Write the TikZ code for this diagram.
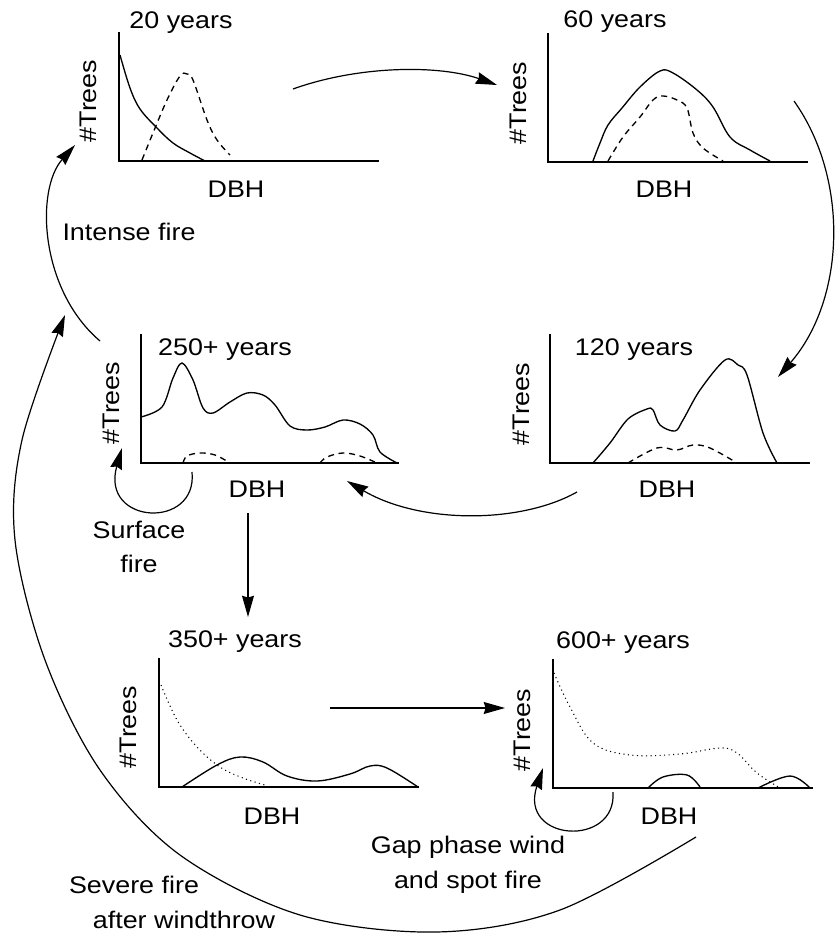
\documentclass[tikz,border=0pt]{standalone}
\usepackage{fontspec}
\setmainfont{Liberation Sans}[FakeStretch=1.12]
\usetikzlibrary{arrows.meta}
\begin{document}
\begin{tikzpicture}[x=0.75pt,y=-0.75pt,
 lbl/.style={inner sep=0pt,font=\fontsize{18}{26}\selectfont},
 ylbl/.style={lbl,rotate=90},
 axis/.style={line width=1.1pt},
 solidc/.style={line width=1pt},
 dashc/.style={line width=1pt,dash pattern=on 4.5pt off 3.5pt},
 dotc/.style={line width=0.8pt,dash pattern=on 0.8pt off 2.6pt},
 conn/.style={line width=0.9pt,-{Stealth[length=16pt,width=9pt,inset=1.5pt]}},
]
\useasboundingbox (0,0) rectangle (837,934);

% ---------- Panel 20 years ----------
\node[lbl] (t1) at (181,23) {20 years};
\node[ylbl] (y1) at (88,101) {\#Trees};
\node[lbl] (d1) at (236,189) {DBH};
\draw[axis] (119,32) -- (119,161) -- (379,161);
\draw[solidc] plot[smooth,tension=0.6] coordinates {(120,55) (130,88) (140,109) (157,128) (173,143) (190,153) (205,161)};
\draw[dashc] plot[smooth,tension=0.6] coordinates {(142,160) (153,133) (167,100) (180,76) (187,74) (193,80) (207,120) (217,140) (230,155)};

% ---------- Panel 60 years ----------
\node[lbl] (t2) at (615,22) {60 years};
\node[ylbl] (y2) at (518,103) {\#Trees};
\node[lbl] (d2) at (664,189) {DBH};
\draw[axis] (548,33) -- (548,162) -- (808,162);
\draw[solidc] plot[smooth,tension=0.6] coordinates {(593,161) (600,143) (608,125) (622,108) (640,87) (660,71) (673,73) (697,90) (713,107) (730,137) (750,150) (770,161)};
\draw[dashc] plot[smooth,tension=0.6] coordinates {(608,161) (623,137) (640,117) (653,100) (663,96) (677,100) (687,108) (693,133) (703,148) (723,161)};

% ---------- Panel 250+ years ----------
\node[lbl] (t3) at (225,350) {250+ years};
\node[ylbl] (y3) at (111,403) {\#Trees};
\node[lbl] (d3) at (257,489) {DBH};
\draw[axis] (141,334) -- (141,463) -- (399,463);
\draw[solidc] plot[smooth,tension=0.55] coordinates {(141,417) (162,407) (173,378) (182,363) (193,380) (203,408) (213,413) (230,402) (247,393) (263,395) (275,405) (290,426) (307,430) (325,427) (343,420) (360,424) (373,435) (380,452) (397,463)};
\draw[dashc] plot[smooth,tension=0.6] coordinates {(183,463) (187,456) (200,453) (215,455) (230,463)};
\draw[dashc] plot[smooth,tension=0.6] coordinates {(320,463) (327,457) (343,453) (360,456) (377,463)};

% ---------- Panel 120 years ----------
\node[lbl] (t4) at (634,350) {120 years};
\node[ylbl] (y4) at (521,404) {\#Trees};
\node[lbl] (d4) at (667,489) {DBH};
\draw[axis] (550,334) -- (550,463) -- (810,463);
\draw[solidc] plot[smooth,tension=0.55] coordinates {(593,463) (610,443) (628,419) (647,409) (653,410) (660,425) (675,431) (683,420) (700,390) (725,360) (738,365) (747,375) (763,433) (777,463)};
\draw[dashc] plot[smooth,tension=0.6] coordinates {(628,463) (657,448) (677,450) (693,445) (710,448) (737,463)};

% ---------- Panel 350+ years ----------
\node[lbl] (t5) at (235,642) {350+ years};
\node[ylbl] (y5) at (128,727) {\#Trees};
\node[lbl] (d5) at (272,816) {DBH};
\draw[axis] (159,658) -- (159,787) -- (419,787);
\draw[solidc] plot[smooth,tension=0.6] coordinates {(182,787) (217,765) (240,757) (263,762) (287,776) (317,781) (350,774) (370,766) (387,768) (418,787)};
\draw[dotc] plot[smooth,tension=0.6] coordinates {(161,685) (177,720) (197,747) (220,767) (243,778) (265,785)};

% ---------- Panel 600+ years ----------
\node[lbl] (t6) at (623,643) {600+ years};
\node[ylbl] (y6) at (522,730) {\#Trees};
\node[lbl] (d6) at (669,816) {DBH};
\draw[axis] (553,659) -- (553,788) -- (813,788);
\draw[dotc] plot[smooth,tension=0.6] coordinates {(554,673) (570,707) (593,743) (630,755) (680,754) (720,748) (737,753) (757,773) (780,788)};
\draw[solidc] plot[smooth,tension=0.6] coordinates {(648,788) (663,777) (687,775) (700,787)};
\draw[solidc] plot[smooth,tension=0.6] coordinates {(758,788) (790,776) (810,788)};

% ---------- Labels ----------
\node[lbl] (intense) at (129,232) {Intense fire};
\node[lbl,align=center] (surface) at (139,547) {Surface\\fire};
\node[lbl,align=center] (gap) at (468,865) {Gap phase wind\\and spot fire};
\node[lbl] (sev1) at (134,885) {Severe fire};
\node[lbl] (sev2) at (184,920) {after windthrow};

% ---------- Connector end points ----------
\coordinate (a1s) at (293,89);   \coordinate (a1e) at (497,85);
\coordinate (a2s) at (794,101);  \coordinate (a2e) at (778,377);
\coordinate (a3s) at (577,492);  \coordinate (a3e) at (347,481);
\coordinate (a4s) at (248,513);  \coordinate (a4e) at (248,617);
\coordinate (a5s) at (330,708);  \coordinate (a5e) at (505,708);
\coordinate (fis) at (100,341);  \coordinate (fie) at (75,145);
\coordinate (sfs) at (192,472);  \coordinate (sfe) at (122,448);
\coordinate (gps) at (613,792);  \coordinate (gpe) at (543,768);
\coordinate (svs) at (696,837);  \coordinate (sve) at (65,315);

\draw[conn] (a1s) .. controls (360,65) and (440,65) .. (a1e);
\draw[conn] (a2s) .. controls (850,180) and (845,300) .. (a2e);
\draw[conn] (a3s) .. controls (520,524) and (420,524) .. (a3e);
\draw[conn] (a4s) -- (a4e);
\draw[conn] (a5s) -- (a5e);
\draw[conn] (fis) .. controls (40,290) and (35,190) .. (fie);
\draw[conn] (sfs) .. controls (198,530) and (100,525) .. (sfe);
\draw[conn] (gps) .. controls (617,848) and (518,842) .. (gpe);
\draw[conn] plot[smooth,tension=0.55] coordinates {(svs) (560,910) (436,932) (300,915) (180,855) (100,770) (45,660) (15,540) (22,440) (65,315)};
\end{tikzpicture}
\end{document}
